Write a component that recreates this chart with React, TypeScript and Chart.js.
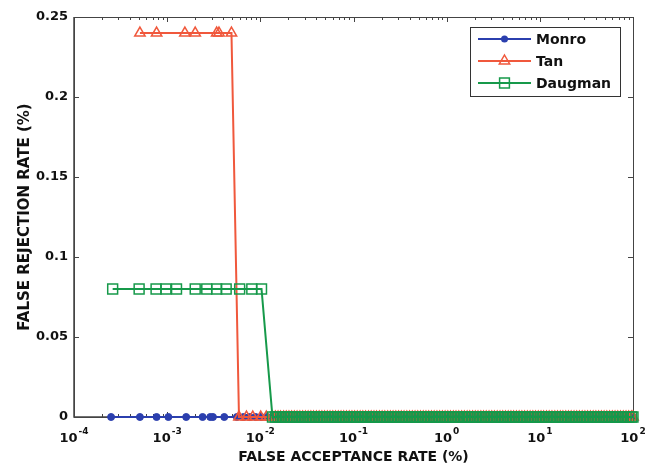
import React, { useEffect, useRef } from "react";
import { Chart, registerables } from "chart.js";

Chart.register(...registerables);

const FONT = "'DejaVu Sans', sans-serif";

// Series data (false acceptance rate %, false rejection rate %)
const MONRO_FAR = [0.00025, 0.00051, 0.00077, 0.00103, 0.0016, 0.0024, 0.0029, 0.0031, 0.0041, 0.0056, 0.0066, 0.0077, 0.0089, 0.0102, 0.0118];
const MONRO_FRR = [0, 0, 0, 0, 0, 0, 0, 0, 0, 0, 0, 0, 0, 0, 0];

const TAN_FAR = [0.00051, 0.00077, 0.00155, 0.002, 0.0034, 0.0036, 0.0049, 0.0059, 0.0071, 0.0083, 0.0101, 0.0116];
const TAN_FRR = [0.24, 0.24, 0.24, 0.24, 0.24, 0.24, 0.24, 0, 0, 0, 0, 0];

const DAUGMAN_FAR = [0.00026, 0.0005, 0.00076, 0.00097, 0.00126, 0.002, 0.00266, 0.0034, 0.0043, 0.006, 0.0081, 0.0103];
const DAUGMAN_FRR = [0.08, 0.08, 0.08, 0.08, 0.08, 0.08, 0.08, 0.08, 0.08, 0.08, 0.08, 0.08];

// Common zero-FRR tail shared by all three methods
const TAIL_FAR = [
  0.0135, 0.0145, 0.0155, 0.0165, 0.0178, 0.019, 0.0203, 0.0217, 0.0232, 0.0248,
  0.0266, 0.0285, 0.0305, 0.0326, 0.0349, 0.0373, 0.04, 0.0428, 0.0458, 0.049,
  0.0524, 0.056, 0.06, 0.0642, 0.0687, 0.0735, 0.0786, 0.0841, 0.09, 0.0963,
  0.103, 0.11, 0.118, 0.126, 0.135, 0.145, 0.155, 0.166, 0.177, 0.19,
  0.203, 0.217, 0.233, 0.249, 0.266, 0.285, 0.305, 0.326, 0.349, 0.374,
  0.4, 0.428, 0.458, 0.49, 0.524, 0.561, 0.6, 0.642, 0.687, 0.735,
  0.787, 0.842, 0.9, 0.963, 1.03, 1.1, 1.18, 1.26, 1.35, 1.45,
  1.55, 1.66, 1.77, 1.9, 2.03, 2.17, 2.33, 2.49, 2.66, 2.85,
  3.05, 3.26, 3.49, 3.74, 4.0, 4.28, 4.58, 4.9, 5.24, 5.61,
  6.0, 6.42, 6.87, 7.35, 7.87, 8.42, 9.0, 9.63, 10.3, 11,
  11.8, 12.6, 13.5, 14.5, 15.5, 16.6, 17.7, 19, 20.3, 21.7,
  23.3, 24.9, 26.6, 28.5, 30.5, 32.6, 34.9, 37.4, 40, 42.8,
  45.8, 49, 52.4, 56.1, 60, 64.2, 68.7, 73.5, 78.7, 84.2,
  90, 96.3, 100,
];
const TAIL_FRR = [
  0, 0, 0, 0, 0, 0, 0, 0, 0, 0,
  0, 0, 0, 0, 0, 0, 0, 0, 0, 0,
  0, 0, 0, 0, 0, 0, 0, 0, 0, 0,
  0, 0, 0, 0, 0, 0, 0, 0, 0, 0,
  0, 0, 0, 0, 0, 0, 0, 0, 0, 0,
  0, 0, 0, 0, 0, 0, 0, 0, 0, 0,
  0, 0, 0, 0, 0, 0, 0, 0, 0, 0,
  0, 0, 0, 0, 0, 0, 0, 0, 0, 0,
  0, 0, 0, 0, 0, 0, 0, 0, 0, 0,
  0, 0, 0, 0, 0, 0, 0, 0, 0, 0,
  0, 0, 0, 0, 0, 0, 0, 0, 0, 0,
  0, 0, 0, 0, 0, 0, 0, 0, 0, 0,
  0, 0, 0, 0, 0, 0, 0, 0, 0, 0,
  0, 0, 0,
];

const SERIES_NAMES = ["Monro", "Tan", "Daugman"];
const COLORS = ["#2b3fae", "#f0583c", "#16994a"];
const X_DECADES = [-4, -3, -2, -1, 0, 1, 2];
const X_TICK_LABELS = ["-4", "-3", "-2", "-1", "0", "1", "2"];
const Y_TICKS = [0, 0.05, 0.1, 0.15, 0.2, 0.25];
const Y_TICK_LABELS = ["0", "0.05", "0.1", "0.15", "0.2", "0.25"];
const X_TITLE = "FALSE ACCEPTANCE RATE (%)";
const Y_TITLE = "FALSE REJECTION RATE (%)";

const toPoints = (xs: number[], ys: number[]) => xs.map((x, i) => ({ x, y: ys[i] }));

const FRAME = "#444";

function drawMarker(ctx: CanvasRenderingContext2D, kind: number, x: number, y: number) {
  ctx.save();
  ctx.strokeStyle = COLORS[kind];
  ctx.fillStyle = COLORS[kind];
  ctx.lineWidth = 1.5;
  ctx.beginPath();
  if (kind === 0) {
    ctx.arc(x, y, 3.5, 0, Math.PI * 2);
    ctx.fill();
  } else if (kind === 1) {
    const r = 6;
    ctx.moveTo(x, y - r);
    ctx.lineTo(x + r * 0.866, y + r * 0.5);
    ctx.lineTo(x - r * 0.866, y + r * 0.5);
    ctx.closePath();
    ctx.stroke();
  } else {
    const s = 4.9;
    ctx.rect(x - s, y - s, 2 * s, 2 * s);
    ctx.stroke();
  }
  ctx.restore();
}

const framePlugin = {
  id: "matlabFrame",
  beforeDatasetsDraw(chart: any) {
    const { ctx, chartArea } = chart;
    const { left, right, top, bottom } = chartArea;
    const xs = chart.scales.x;
    const ys = chart.scales.y;
    ctx.save();
    ctx.strokeStyle = FRAME;
    ctx.lineWidth = 1;
    ctx.strokeRect(left + 0.5, top + 0.5, right - left, bottom - top);
    ctx.lineWidth = 1.5;
    ctx.beginPath();
    ctx.moveTo(left, top);
    ctx.lineTo(left, bottom);
    ctx.lineTo(right, bottom);
    ctx.stroke();
    ctx.lineWidth = 1;
    ctx.beginPath();
    for (let i = 0; i < X_DECADES.length; i++) {
      const d = X_DECADES[i];
      const px = Math.round(xs.getPixelForValue(Math.pow(10, d))) + 0.5;
      ctx.moveTo(px, bottom);
      ctx.lineTo(px, bottom - 5);
      ctx.moveTo(px, top);
      ctx.lineTo(px, top + 5);
      if (i < X_DECADES.length - 1) {
        for (let m = 2; m <= 9; m++) {
          const mx = Math.round(xs.getPixelForValue(m * Math.pow(10, d))) + 0.5;
          ctx.moveTo(mx, bottom);
          ctx.lineTo(mx, bottom - 3);
          ctx.moveTo(mx, top);
          ctx.lineTo(mx, top + 3);
        }
      }
    }
    for (const v of Y_TICKS) {
      const py = Math.round(ys.getPixelForValue(v)) + 0.5;
      ctx.moveTo(left, py);
      ctx.lineTo(left + 5, py);
      ctx.moveTo(right, py);
      ctx.lineTo(right - 5, py);
    }
    ctx.stroke();
    ctx.restore();
  },
  afterDraw(chart: any) {
    const { ctx, chartArea } = chart;
    const xs = chart.scales.x;
    ctx.save();
    ctx.fillStyle = "#111";
    ctx.textBaseline = "alphabetic";
    ctx.textAlign = "left";
    // x tick labels with superscripts
    for (let i = 0; i < X_DECADES.length; i++) {
      const px = xs.getPixelForValue(Math.pow(10, X_DECADES[i]));
      ctx.font = `bold 13px ${FONT}`;
      const w1 = ctx.measureText("10").width;
      ctx.font = `bold 9px ${FONT}`;
      const w2 = ctx.measureText(X_TICK_LABELS[i]).width;
      const start = px - (w1 + w2 + 1) / 2;
      ctx.font = `bold 13px ${FONT}`;
      ctx.fillText("10", start, 442);
      ctx.font = `bold 9px ${FONT}`;
      ctx.fillText(X_TICK_LABELS[i], start + w1 + 1, 434);
    }
    // axis titles
    ctx.font = `bold 14px ${FONT}`;
    ctx.textAlign = "center";
    ctx.fillText(X_TITLE, (chartArea.left + chartArea.right) / 2, 461);
    ctx.save();
    ctx.translate(29, (chartArea.top + chartArea.bottom) / 2);
    ctx.rotate(-Math.PI / 2);
    ctx.font = `bold 15px ${FONT}`;
    ctx.fillText(Y_TITLE, 0, 0);
    ctx.restore();
    // legend box
    const bx = 470, by = 27, bw = 150, bh = 69;
    ctx.fillStyle = "#fff";
    ctx.fillRect(bx, by, bw, bh);
    ctx.strokeStyle = "#333";
    ctx.lineWidth = 1;
    ctx.strokeRect(bx + 0.5, by + 0.5, bw, bh);
    const rows = [39, 61, 83];
    ctx.textAlign = "left";
    ctx.textBaseline = "middle";
    ctx.font = `bold 14px ${FONT}`;
    for (let i = 0; i < SERIES_NAMES.length; i++) {
      const y = rows[i];
      ctx.strokeStyle = COLORS[i];
      ctx.lineWidth = 2;
      ctx.beginPath();
      ctx.moveTo(478, y);
      ctx.lineTo(531, y);
      ctx.stroke();
      drawMarker(ctx, i, 504.5, y);
      ctx.fillStyle = "#111";
      ctx.fillText(SERIES_NAMES[i], 536, y + 1);
    }
    ctx.restore();
  },
};

export default function App() {
  const ref = useRef<HTMLCanvasElement | null>(null);
  useEffect(() => {
    if (!ref.current) return;
    const chart = new Chart(ref.current, {
      type: "line",
      data: {
        datasets: [
          {
            label: SERIES_NAMES[0],
            data: toPoints(MONRO_FAR.concat(TAIL_FAR), MONRO_FRR.concat(TAIL_FRR)),
            borderColor: COLORS[0],
            backgroundColor: COLORS[0],
            pointBackgroundColor: COLORS[0],
            pointBorderColor: COLORS[0],
            pointStyle: "circle",
            pointRadius: 3.5,
            pointBorderWidth: 1,
            borderWidth: 2,
            tension: 0,
            clip: false,
            order: 2,
          },
          {
            label: SERIES_NAMES[1],
            data: toPoints(TAN_FAR.concat(TAIL_FAR), TAN_FRR.concat(TAIL_FRR)),
            borderColor: COLORS[1],
            backgroundColor: "rgba(0,0,0,0)",
            pointBackgroundColor: "rgba(0,0,0,0)",
            pointBorderColor: COLORS[1],
            pointStyle: "triangle",
            pointRadius: 6,
            pointBorderWidth: 1.5,
            borderWidth: 2,
            tension: 0,
            clip: false,
            order: 1,
          },
          {
            label: SERIES_NAMES[2],
            data: toPoints(DAUGMAN_FAR.concat(TAIL_FAR), DAUGMAN_FRR.concat(TAIL_FRR)),
            borderColor: COLORS[2],
            backgroundColor: "rgba(0,0,0,0)",
            pointBackgroundColor: "rgba(0,0,0,0)",
            pointBorderColor: COLORS[2],
            pointStyle: "rect",
            pointRadius: 7,
            pointBorderWidth: 1.5,
            borderWidth: 2,
            tension: 0,
            clip: false,
            order: 0,
          },
        ],
      },
      options: {
        animation: false,
        responsive: true,
        maintainAspectRatio: false,
        layout: { padding: { top: 17, right: 17, left: 0, bottom: 0 } },
        plugins: { legend: { display: false }, tooltip: { enabled: false } },
        scales: {
          x: {
            type: "logarithmic",
            min: 0.0001,
            max: 100,
            grid: { display: false, drawTicks: false },
            border: { display: false },
            ticks: { display: false },
            afterFit: (s: any) => {
              s.height = 46;
            },
          },
          y: {
            type: "linear",
            min: 0,
            max: 0.25,
            grid: { display: false, drawTicks: false },
            border: { display: false },
            afterBuildTicks: (s: any) => {
              s.ticks = Y_TICKS.map((v) => ({ value: v }));
            },
            ticks: {
              padding: 6,
              color: "#111",
              font: { family: FONT, size: 13, weight: "bold" },
              callback: (v: any) => {
                const i = Y_TICKS.findIndex((t) => Math.abs(t - Number(v)) < 1e-9);
                return i >= 0 ? Y_TICK_LABELS[i] : "";
              },
            },
            afterFit: (s: any) => {
              s.width = 74;
            },
          },
        },
      },
      plugins: [framePlugin],
    } as any);
    return () => chart.destroy();
  }, []);
  return (
    <div style={{ position: "fixed", left: 0, top: 0, width: 650, height: 463, background: "#fff" }}>
      <canvas ref={ref} />
    </div>
  );
}
